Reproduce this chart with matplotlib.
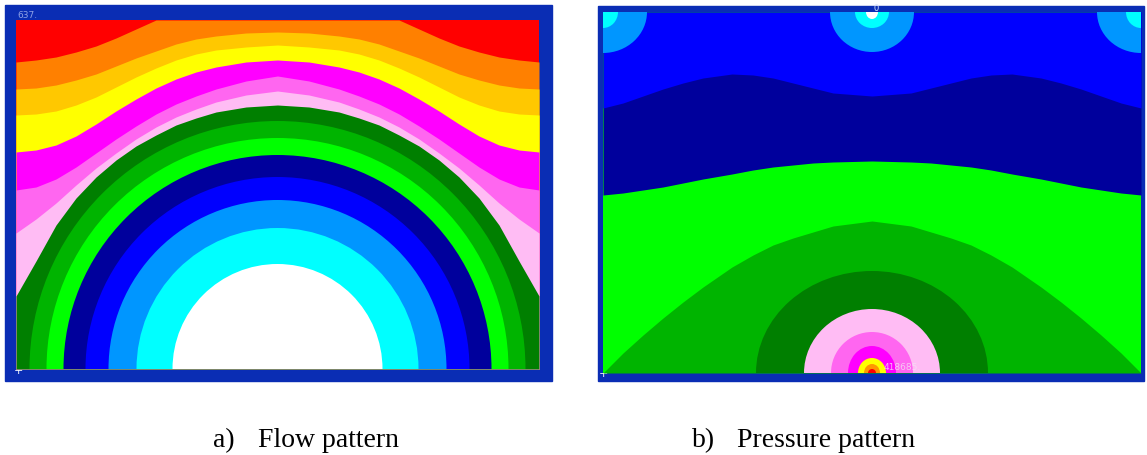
import numpy as np
import matplotlib
matplotlib.use("Agg")
import matplotlib.pyplot as plt
from matplotlib.patches import Rectangle, Ellipse, Circle
from matplotlib.colors import LinearSegmentedColormap

W, H = 1147, 456

# ---- a) flow pattern (inner box 523 x 349 px, origin bottom-left) ----
flow_w, flow_h = 523, 349
flow_x = [0, 20, 40, 60, 80, 100, 120, 140, 160, 180, 200, 230, 261.5]   # left half, mirrored
orange_top = [307, 309, 312, 317, 323, 331, 340, 349, 349, 349, 349, 349, 349]
gold_top = [280, 281, 284, 289, 295, 303, 311, 318, 325, 330, 333, 336, 337]
yellow_top = [254, 255, 258, 264, 272, 282, 292, 301, 309, 315, 319, 322, 324]
magenta_top = [217, 219, 224, 233, 245, 258, 270, 281, 290, 297, 302, 307, 309]
pink_top = [179, 182, 190, 202, 216, 230, 243, 255, 265, 273, 280, 288, 293]
lpink_top = [136, 150, 166, 184, 201, 216, 230, 242, 252, 260, 267, 274, 278]
dgreen_top = [73, 108, 144, 171, 192, 209, 223, 234, 244, 251, 257, 262, 264]
flow_bands = [("#ff8000", orange_top), ("#ffc800", gold_top), ("#ffff00", yellow_top),
              ("#ff00ff", magenta_top), ("#ff66f0", pink_top), ("#ffbcf4", lpink_top),
              ("#007f00", dgreen_top)]
# rings around the bottom centre
flow_radii = [248, 231, 214, 192, 169, 141, 105]
flow_ring_colors = ["#00b400", "#00ff00", "#00009c", "#0000ff",
                    "#0096ff", "#00ffff", "#ffffff"]

# ---- b) pressure pattern (inner box 538 x 361 px) ----
pres_w, pres_h = 538, 361
pres_x = [0, 20, 40, 60, 80, 100, 129, 150, 170, 190, 210, 230, 269]     # left half, mirrored
blue_bottom = [265, 270, 277, 284, 290, 295, 299, 298, 295, 290, 285, 280, 277]
navy_bottom = [178, 180, 183, 186, 190, 194, 199, 203, 206, 208, 210, 211, 212]
green_arch = [0, 20, 38, 55, 71, 86, 106, 118, 128, 135, 141, 147, 152]
# half widths / heights of the spots at bottom centre
bottom_spots = [("#007f00", 116, 102), ("#ffbcf4", 68, 64), ("#ff66f0", 41, 41),
                ("#ff00ff", 24, 27), ("#ffff00", 14, 15), ("#ff9900", 8, 9), ("#ff0000", 4, 4)]
# spots hanging from the top edge: (x centre, colour, half width, depth)
top_spots = [(0, "#0096ff", 44, 41), (269, "#0096ff", 42, 40), (538, "#0096ff", 44, 41),
             (0, "#00ffff", 15, 16), (269, "#00ffff", 17, 16), (538, "#00ffff", 15, 16),
             (269, "#ffffff", 6, 7)]

FRAME = "#0a2db4"


def mirror(xs, ys, width):
    xs_full = list(xs) + [width - x for x in reversed(xs[:-1])]
    ys_full = list(ys) + list(reversed(ys[:-1]))
    return xs_full, ys_full


fig = plt.figure(figsize=(W / 100, H / 100), dpi=100)
bg = fig.add_axes([0, 0, 1, 1])


def px_axes(x0, y0, x1, y1):
    ax = fig.add_axes([x0 / W, 1 - y1 / H, (x1 - x0) / W, (y1 - y0) / H])
    ax.set_axis_off()
    return ax


# frames
edge = LinearSegmentedColormap.from_list(
    "edge", [(0, FRAME), (0.4, "#1a8cf0"), (0.62, "#1a8cf0"), (1, FRAME)])
bg.add_patch(Rectangle((5, 6), 547, 376, color=FRAME))
bg.imshow(np.linspace(0, 1, 200).reshape(-1, 1), cmap=edge, extent=(5, 15, 382, 6),
          aspect="auto")
bg.add_patch(Rectangle((598, 7), 546, 375, color=FRAME))
edge2 = LinearSegmentedColormap.from_list(
    "edge2", [(0, FRAME), (0.5, "#1a7ce8"), (0.75, "#1a7ce8"), (1, FRAME)])
bg.imshow(np.linspace(0, 1, 200).reshape(-1, 1), cmap=edge2, extent=(598, 602, 382, 7),
          aspect="auto")

# captions
cap = dict(fontsize=20, family="Liberation Serif", va="baseline", color="black")
bg.text(213, 447, "a)", **cap)
bg.text(258, 447, "Flow pattern", **cap)
bg.text(692, 447, "b)", **cap)
bg.text(737, 447, "Pressure pattern", **cap)

# small labels on the frames
bg.text(17, 18, "637.", fontsize=6.5, color="#8fa2e6", va="baseline")
bg.text(876, 11, "0", fontsize=6, color="#dde6ff", va="baseline", ha="center")
bg.text(18, 371, "+", fontsize=8, color="white", ha="center", va="center")
bg.text(603, 374, "+", fontsize=8, color="white", ha="center", va="center")

bg.set_xlim(0, W)
bg.set_ylim(H, 0)
bg.set_axis_off()

# ---- left panel ----
ax1 = px_axes(16, 21, 539, 370)
ax1.add_patch(Rectangle((0, 0), flow_w, flow_h, color="#ff0000"))
for color, tops in flow_bands:
    xs, ys = mirror(flow_x, tops, flow_w)
    ax1.fill_between(xs, 0, ys, color=color, lw=0)
for r, color in zip(flow_radii, flow_ring_colors):
    ax1.add_patch(Circle((flow_w / 2, 0), r, color=color, lw=0))
ax1.set_xlim(0, flow_w)
ax1.set_ylim(0, flow_h)

# ---- right panel ----
ax2 = px_axes(603, 13, 1141, 374)
ax2.add_patch(Rectangle((0, 0), pres_w, pres_h, color="#00ff00"))
xs, ys = mirror(pres_x, navy_bottom, pres_w)
ax2.fill_between(xs, ys, pres_h, color="#00009c", lw=0)
xs, ys = mirror(pres_x, blue_bottom, pres_w)
ax2.fill_between(xs, ys, pres_h, color="#0000ff", lw=0)
for xc, color, hw, dep in top_spots:
    ax2.add_patch(Ellipse((xc, pres_h), 2 * hw, 2 * dep, color=color, lw=0))
xs, ys = mirror(pres_x, green_arch, pres_w)
ax2.fill_between(xs, 0, ys, color="#00b400", lw=0)
for color, hw, hh in bottom_spots:
    ax2.add_patch(Ellipse((pres_w / 2, 0), 2 * hw, 2 * hh, color=color, lw=0))
ax2.text(281, 6, "418685.", fontsize=6.5, color="#f4e0f4", alpha=0.8, va="center")
ax2.set_xlim(0, pres_w)
ax2.set_ylim(0, pres_h)

fig.savefig("out.png", dpi=100)
